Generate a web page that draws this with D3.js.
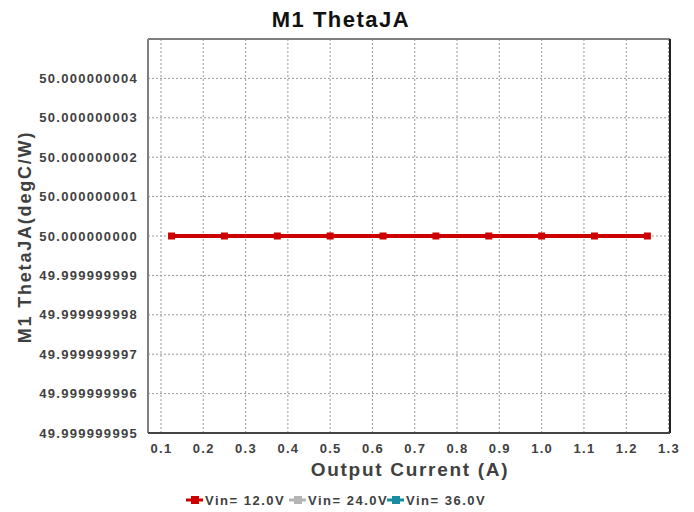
<!DOCTYPE html>
<html>
<head>
<meta charset="utf-8">
<script src="https://cdn.jsdelivr.net/npm/d3@7"></script>
<style>
  body { margin: 0; background: #fff; }
  text { font-family: 'Liberation Sans', Arial, sans-serif; font-weight: bold; }
</style>
</head>
<body>
<div id="chart"></div>
<script>
const current = [0.125, 0.25, 0.375, 0.5, 0.625, 0.75, 0.875, 1.0, 1.125, 1.25];
const vin12 = [50, 50, 50, 50, 50, 50, 50, 50, 50, 50];
const vin24 = [];
const vin36 = [];
const seriesNames = ['Vin= 12.0V', 'Vin= 24.0V', 'Vin= 36.0V'];
const seriesColors = ['#cc0000', '#b4b4b4', '#1a8ca0'];
const xTicks = [0.1, 0.2, 0.3, 0.4, 0.5, 0.6, 0.7, 0.8, 0.9, 1.0, 1.1, 1.2, 1.3];
const yTicks = [49.999999995, 49.999999996, 49.999999997, 49.999999998, 49.999999999,
    50.0, 50.000000001, 50.000000002, 50.000000003, 50.000000004];

const svgWidth = 694;
const svgHeight = 512;
const margin = { top: 39, left: 148, bottom: 79, right: 24 };

const svg = d3.select('#chart')
    .append('svg')
    .attr('width', svgWidth)
    .attr('height', svgHeight);

const x = d3.scaleLinear()
    .domain([0.0693, 1.3035])
    .range([margin.left, svgWidth - margin.right]);

const y = d3.scaleLinear()
    .domain([49.999999995, 50.000000005])
    .range([svgHeight - margin.bottom, margin.top]);

// grid
svg.append('g')
    .selectAll('line')
    .data(xTicks)
    .enter()
    .append('line')
    .attr('x1', d => x(d)).attr('x2', d => x(d))
    .attr('y1', margin.top).attr('y2', svgHeight - margin.bottom)
    .attr('stroke', '#999').attr('stroke-width', 1).attr('stroke-dasharray', '2,2');

svg.append('g')
    .selectAll('line')
    .data(yTicks)
    .enter()
    .append('line')
    .attr('x1', margin.left).attr('x2', svgWidth - margin.right)
    .attr('y1', d => y(d)).attr('y2', d => y(d))
    .attr('stroke', '#999').attr('stroke-width', 1).attr('stroke-dasharray', '2,2');

// frame
const x0 = margin.left, x1 = svgWidth - margin.right;
const y0 = margin.top, y1 = svgHeight - margin.bottom;
svg.append('line').attr('x1', x0).attr('x2', x1).attr('y1', y0).attr('y2', y0)
    .attr('stroke', '#7f7f7f').attr('stroke-width', 2);
svg.append('line').attr('x1', x0).attr('x2', x0).attr('y1', y0).attr('y2', y1)
    .attr('stroke', '#7f7f7f').attr('stroke-width', 2);
svg.append('line').attr('x1', x1).attr('x2', x1).attr('y1', y0).attr('y2', y1)
    .attr('stroke', '#222').attr('stroke-width', 2);
svg.append('line').attr('x1', x0).attr('x2', x1).attr('y1', y1).attr('y2', y1)
    .attr('stroke', '#444').attr('stroke-width', 2);

const tickStyle = sel => sel
    .attr('fill', '#404040')
    .style('font-size', '13px')
    .style('font-family', "'Liberation Sans', Arial, sans-serif")
    .style('font-weight', 'bold')
    .style('letter-spacing', '1.3px');

// axes labels
const yAxis = svg.append('g')
    .attr('transform', `translate(${margin.left}, 0)`)
    .call(d3.axisLeft(y).tickValues(yTicks).tickSize(0).tickPadding(10)
        .tickFormat(d3.format('.9f')));
yAxis.select('.domain').remove();
yAxis.selectAll('text').call(tickStyle);

const xAxis = svg.append('g')
    .attr('transform', `translate(0, ${svgHeight - margin.bottom})`)
    .call(d3.axisBottom(x).tickValues(xTicks).tickSize(0).tickPadding(11)
        .tickFormat(d3.format('.1f')));
xAxis.select('.domain').remove();
xAxis.selectAll('text').call(tickStyle);

// titles
svg.append('text')
    .attr('x', 341).attr('y', 27)
    .attr('text-anchor', 'middle')
    .attr('fill', '#111')
    .style('font-size', '22px')
    .style('letter-spacing', '1.5px')
    .text('M1 ThetaJA');

svg.append('text')
    .attr('x', 410).attr('y', 476)
    .attr('text-anchor', 'middle')
    .attr('fill', '#404040')
    .style('font-size', '19px')
    .style('letter-spacing', '1.7px')
    .text('Output Current (A)');

svg.append('text')
    .attr('transform', 'translate(31, 237) rotate(-90)')
    .attr('text-anchor', 'middle')
    .attr('fill', '#404040')
    .style('font-size', '18px')
    .style('letter-spacing', '1.8px')
    .text('M1 ThetaJA(degC/W)');

// series
const allSeries = [vin36, vin24, vin12];
const allColors = [seriesColors[2], seriesColors[1], seriesColors[0]];
const line = d3.line().x(d => x(d[0])).y(d => y(d[1]));

allSeries.forEach((vals, i) => {
    const pts = vals.map((v, j) => [current[j], v]);
    if (!pts.length) return;
    svg.append('path')
        .datum(pts)
        .attr('d', line)
        .attr('fill', 'none')
        .attr('stroke', allColors[i])
        .attr('stroke-width', 4);
    svg.append('g')
        .selectAll('rect')
        .data(pts)
        .enter()
        .append('rect')
        .attr('x', d => x(d[0]) - 3.5)
        .attr('y', d => y(d[1]) - 3.5)
        .attr('width', 7)
        .attr('height', 7)
        .attr('fill', allColors[i]);
});

// legend
const legendX = [186, 289, 387];
const legend = svg.append('g')
    .selectAll('g')
    .data(seriesNames)
    .enter()
    .append('g')
    .attr('transform', (d, i) => `translate(${legendX[i]}, 500)`);
legend.append('line')
    .attr('x1', 0).attr('x2', 17).attr('y1', 0).attr('y2', 0)
    .attr('stroke', (d, i) => seriesColors[i]).attr('stroke-width', 3);
legend.append('rect')
    .attr('x', 5).attr('y', -4).attr('width', 8).attr('height', 8)
    .attr('fill', (d, i) => seriesColors[i]);
legend.append('text')
    .attr('x', 19).attr('y', 5)
    .attr('fill', '#404040')
    .style('font-size', '13px')
    .style('letter-spacing', '1.5px')
    .text(d => d);
</script>
</body>
</html>
